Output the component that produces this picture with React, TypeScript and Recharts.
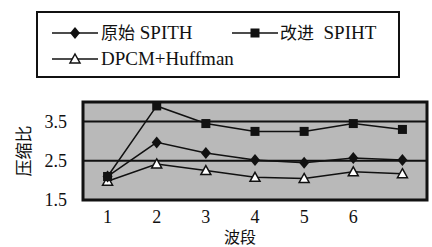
import React from "react";
import {
  LineChart,
  Line,
  XAxis,
  YAxis,
  ReferenceLine,
  ReferenceArea,
  Label,
} from "recharts";

const bands = [1, 2, 3, 4, 5, 6, 7];
const xTicks = [1, 2, 3, 4, 5, 6];
const yTicks = [1.5, 2.5, 3.5];
const originalSpith = [2.1, 2.97, 2.7, 2.52, 2.45, 2.57, 2.52];
const improvedSpiht = [2.1, 3.9, 3.45, 3.25, 3.25, 3.45, 3.3];
const dpcmHuffman = [1.98, 2.42, 2.25, 2.08, 2.05, 2.22, 2.17];

const data = bands.map((b, i) => ({
  band: b,
  original: originalSpith[i],
  improved: improvedSpiht[i],
  dpcm: dpcmHuffman[i],
}));

const serif = "'Liberation Serif', 'Times New Roman', serif";
const cjk = "'Noto Sans CJK SC', sans-serif";

const Diamond = (props: any) => {
  const { cx, cy } = props;
  if (cx == null || cy == null) return null;
  return <path d={`M${cx},${cy - 6}L${cx + 5},${cy}L${cx},${cy + 6}L${cx - 5},${cy}Z`} fill="#111" />;
};

const Square = (props: any) => {
  const { cx, cy } = props;
  if (cx == null || cy == null) return null;
  return <rect x={cx - 4.5} y={cy - 4.5} width={9} height={9} fill="#111" />;
};

const Triangle = (props: any) => {
  const { cx, cy } = props;
  if (cx == null || cy == null) return null;
  return (
    <path
      d={`M${cx},${cy - 5}L${cx + 5},${cy + 4}L${cx - 5},${cy + 4}Z`}
      fill="#fff"
      stroke="#111"
      strokeWidth={1.5}
    />
  );
};

function LegendSample({ kind }: { kind: string }) {
  return (
    <svg width={46} height={14} style={{ verticalAlign: "middle" }}>
      <line x1={0} y1={7} x2={46} y2={7} stroke="#111" strokeWidth={1.5} />
      {kind === "diamond" && <Diamond cx={23} cy={7} />}
      {kind === "square" && <Square cx={23} cy={7} />}
      {kind === "triangle" && <Triangle cx={23} cy={7} />}
    </svg>
  );
}

function LegendBox() {
  const item: React.CSSProperties = {
    position: "absolute",
    display: "flex",
    alignItems: "center",
    fontFamily: serif,
    fontSize: 19,
    lineHeight: "22px",
    color: "#111",
    whiteSpace: "nowrap",
  };
  return (
    <div
      style={{
        position: "absolute",
        left: 36,
        top: 11,
        width: 360,
        height: 63,
        border: "2px solid #111",
      }}
    >
      <div style={{ ...item, left: 14, top: 8 }}>
        <LegendSample kind="diamond" />
        <span style={{ marginLeft: 3 }}>
          <span style={{ fontFamily: cjk, fontSize: 17 }}>原始</span> SPITH
        </span>
      </div>
      <div style={{ ...item, left: 194, top: 8 }}>
        <LegendSample kind="square" />
        <span style={{ marginLeft: 2 }}>
          <span style={{ fontFamily: cjk, fontSize: 17 }}>改进</span>&nbsp;&nbsp;SPIHT
        </span>
      </div>
      <div style={{ ...item, left: 14, top: 35 }}>
        <LegendSample kind="triangle" />
        <span style={{ marginLeft: 3 }}>DPCM+Huffman</span>
      </div>
    </div>
  );
}

export default function App() {
  return (
    <div style={{ position: "absolute", left: 0, top: 0, width: 432, height: 247, background: "#fff" }}>
      <LineChart width={432} height={247} data={data} margin={{ top: 102, right: 5, bottom: 0, left: 0 }}>
        <XAxis
          dataKey="band"
          type="number"
          domain={[0.5, 7.5]}
          ticks={xTicks}
          axisLine={false}
          tickLine={false}
          tickMargin={4}
          height={47}
          tick={{ fontFamily: serif, fontSize: 18, fill: "#111" }}
        >
          <Label
            value="波段"
            position="insideBottom"
            offset={4}
            dx={-15}
            style={{ fontFamily: cjk, fontSize: 16, fill: "#111" }}
          />
        </XAxis>
        <YAxis
          type="number"
          domain={[1.5, 4.0]}
          ticks={yTicks}
          axisLine={false}
          tickLine={false}
          tickSize={0}
          tickMargin={16}
          width={83}
          tick={{ fontFamily: serif, fontSize: 18, fill: "#111" }}
        >
          <Label
            value="压缩比"
            angle={-90}
            position="insideLeft"
            offset={24}
            style={{ fontFamily: cjk, fontSize: 17, fill: "#111", textAnchor: "middle" }}
          />
        </YAxis>
        <ReferenceArea x1={0.5} x2={7.5} y1={1.5} y2={4.0} fill="#b9b9b9" fillOpacity={1} stroke="#111" strokeWidth={3} />
        <ReferenceLine y={2.5} stroke="#111" strokeWidth={2} />
        <ReferenceLine y={3.5} stroke="#111" strokeWidth={2} />
        <Line dataKey="dpcm" stroke="#111" strokeWidth={1.5} dot={<Triangle />} isAnimationActive={false} />
        <Line dataKey="original" stroke="#111" strokeWidth={1.5} dot={<Diamond />} isAnimationActive={false} />
        <Line dataKey="improved" stroke="#111" strokeWidth={1.5} dot={<Square />} isAnimationActive={false} />
      </LineChart>
      <LegendBox />
    </div>
  );
}
